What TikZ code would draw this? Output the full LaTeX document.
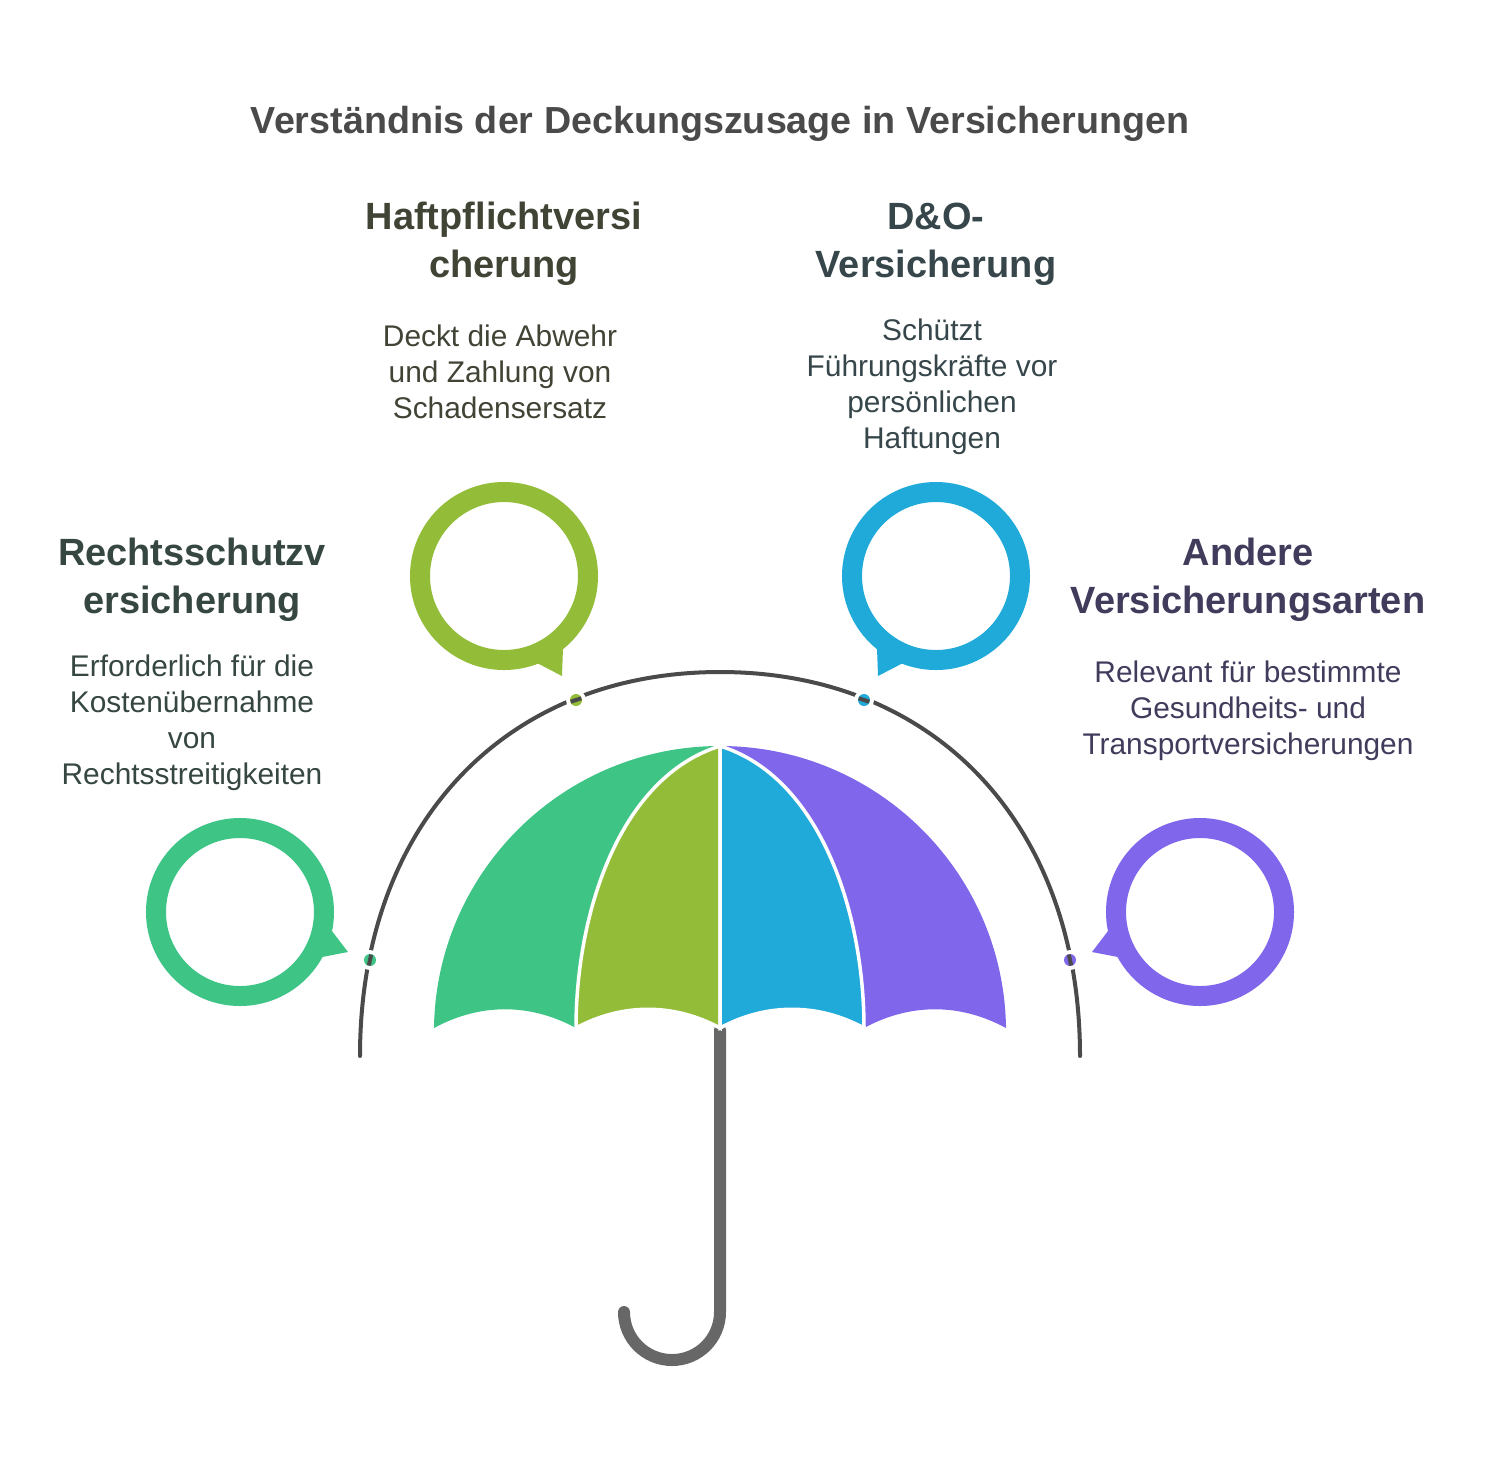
\documentclass[tikz,border=0pt]{standalone}
\usepackage{fontspec}
\setmainfont{Liberation Sans}
\usepackage{color}
\usetikzlibrary{math}
\definecolor{mint}{RGB}{62, 197, 134}
\definecolor{olive}{RGB}{147, 189, 56}
\definecolor{sky}{RGB}{31, 170, 217}
\definecolor{violet}{RGB}{127, 102, 235}
\definecolor{rim}{RGB}{74, 74, 74}
\definecolor{stick}{RGB}{102, 103, 102}
\definecolor{mintink}{RGB}{54, 70, 64}
\definecolor{oliveink}{RGB}{63, 68, 53}
\definecolor{skyink}{RGB}{54, 70, 74}
\definecolor{violetink}{RGB}{65, 59, 92}
\tikzset{
  title/.style={font=\fontsize{10.72}{13.66}\selectfont\bfseries, text=rim, inner sep=0},
  head/.style={font=\fontsize{10.8}{13.66}\selectfont\bfseries, align=center, inner sep=0},
  body/.style={font=\fontsize{8.5}{10.24}\selectfont, align=center, inner sep=0},
  ring/.style={circle, line width=0.2cm, minimum size=1.68cm, inner sep=0}
}

\begin{document}
\begin{tikzpicture}[scale=1]
  \pgfmathsetmacro{\r}{2.86};
  \useasboundingbox (-7.2, -4.33) rectangle (7.68, 10.32);

  \node[title] (titel) at (0, 9.08) {Verständnis der Deckungszusage in Versicherungen};

  % Handle
  \draw[stick, line width=0.12cm, line cap=round]
    (0, 0.02) -- (0, -2.8) arc[start angle=0, end angle=-180, radius=0.48];

  % Canopy
  \fill[mint] (-\r, 0.04) arc[start angle=179.2, end angle=90, radius=\r] -- (-1.44, 0.04)
    .. controls +(-0.46, 0.25) and +(0.46, 0.25) .. (-\r, 0.04) -- cycle;
  \fill[violet] (\r, 0.04) arc[start angle=0.8, end angle=90, radius=\r] -- (1.44, 0.04)
    .. controls +(0.46, 0.25) and +(-0.46, 0.25) .. (\r, 0.04) -- cycle;
  \filldraw[olive, draw=white, line width=0.035cm] (-1.44, 0.04)
    .. controls (-1.44, 1.2) and (-1, 2.55) .. (0, 2.86) -- (0, 0.04)
    .. controls +(-0.46, 0.25) and +(0.46, 0.25) .. (-1.44, 0.04) -- cycle;
  \filldraw[sky, draw=white, line width=0.035cm] (1.44, 0.04)
    .. controls (1.44, 1.2) and (1, 2.55) .. (0, 2.86) -- (0, 0.04)
    .. controls +(0.46, 0.25) and +(-0.46, 0.25) .. (1.44, 0.04) -- cycle;

  % Rim with its four dots
  \draw[rim, line width=0.04cm, line cap=round]
    (-3.6, -0.24) .. controls (-3.6, 2.064) and (-2.16, 3.6) .. (0, 3.6)
    .. controls (2.16, 3.6) and (3.6, 2.064) .. (3.6, -0.24);
  \foreach \x/\y/\tilt/\col in {-3.5/0.72/78/mint, -1.44/3.32/18/olive, 1.44/3.32/-18/sky, 3.5/0.72/-78/violet} {
    \fill[white] (\x, \y) circle (0.1);
    \fill[\col] (\x, \y) circle (0.06);
    \draw[rim, line width=0.04cm] (\x, \y) ++(\tilt:0.055) -- ++(\tilt + 180:0.11);
  }

  % Bubbles
  \foreach \nm/\x/\y/\col in {rechts/-4.8/1.2/mint, haft/-2.16/4.56/olive, dno/2.16/4.56/sky, andere/4.8/1.2/violet} {
    \node[ring, draw=\col] (\nm) at (\x, \y) {};
  }
  \fill[olive] (haft) ++(0.33, -0.87) -- ++(0.25, -0.13) -- ++(0.01, 0.28) -- cycle;
  \fill[sky] (dno) ++(-0.33, -0.87) -- ++(-0.25, -0.13) -- ++(-0.01, 0.28) -- cycle;
  \fill[mint] (rechts) ++(0.92, -0.19) -- ++(0.16, -0.21) -- ++(-0.26, -0.05) -- cycle;
  \fill[violet] (andere) ++(-0.92, -0.19) -- ++(-0.16, -0.21) -- ++(0.26, -0.05) -- cycle;

  % Texts
  \node[head, text=oliveink] (hafthead) at (-2.16, 7.88) {Haftpflichtversi\\cherung};
  \node[body, text=oliveink] (halftext) at (-2.2, 6.6) {Deckt die Abwehr\\und Zahlung von\\Schadensersatz};
  \node[head, text=skyink] (dnohead) at (2.16, 7.88) {D\&O-\\Versicherung};
  \node[body, text=skyink] (dnotext) at (2.12, 6.45) {Schützt\\Führungskräfte vor\\persönlichen\\Haftungen};
  \node[head, text=mintink] (rechtshead) at (-5.28, 4.52) {Rechtsschutzv\\ersicherung};
  \node[body, text=mintink] (rechtstext) at (-5.28, 3.09) {Erforderlich für die\\Kostenübernahme\\von\\Rechtsstreitigkeiten};
  \node[head, text=violetink] (anderehead) at (5.28, 4.52) {Andere\\Versicherungsarten};
  \node[body, text=violetink] (anderetext) at (5.28, 3.21) {Relevant für bestimmte\\Gesundheits- und\\Transportversicherungen};
\end{tikzpicture}
\end{document}
